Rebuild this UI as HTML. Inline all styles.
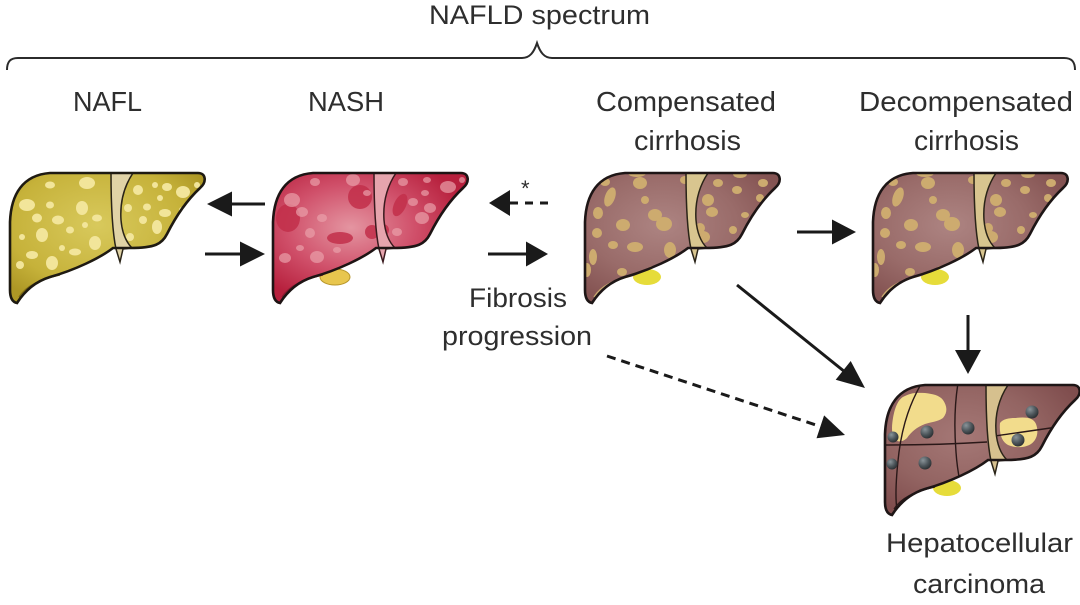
<!DOCTYPE html>
<html><head><meta charset="utf-8">
<style>
html,body{margin:0;padding:0;background:#fff;}
svg{display:block;}
text{font-family:"Liberation Sans",sans-serif;fill:#2e2e2e;}
</style></head>
<body>
<svg width="1080" height="605" viewBox="0 0 1080 605" xmlns="http://www.w3.org/2000/svg">
<defs>
  <path id="lv" d="M 0,120 L 0,52 C 1,24 13,5 40,3 L 188,3 C 196,3 197,12 190,18 C 175,32 165,48 157,64 C 152,74 145,78 120,78 L 103,78 C 90,88 65,100 40,107 C 24,112 14,122 7,133 C 2,132 0,127 0,120 Z"/>
  <path id="lig" d="M 101,3 L 123,3 C 113,18 110,35 111,50 C 112,62 116,72 122,78 L 113,79 L 110,92 L 106,79 C 102,60 101,30 101,3 Z"/>
  <clipPath id="lc"><use href="#lv"/></clipPath>
  <radialGradient id="gY" cx="0.45" cy="0.4" r="0.65">
    <stop offset="0" stop-color="#d8c95c"/><stop offset="0.7" stop-color="#c6b23a"/><stop offset="1" stop-color="#ad9725"/>
  </radialGradient>
  <radialGradient id="gR" cx="0.4" cy="0.42" r="0.6">
    <stop offset="0" stop-color="#e495a1"/><stop offset="0.55" stop-color="#d0506a"/><stop offset="1" stop-color="#b7203d"/>
  </radialGradient>
  <radialGradient id="gC" cx="0.4" cy="0.4" r="0.65">
    <stop offset="0" stop-color="#ad8482"/><stop offset="0.6" stop-color="#996b69"/><stop offset="1" stop-color="#845352"/>
  </radialGradient>
  <radialGradient id="gH" cx="0.4" cy="0.4" r="0.65">
    <stop offset="0" stop-color="#a57876"/><stop offset="0.6" stop-color="#936462"/><stop offset="1" stop-color="#804e4e"/>
  </radialGradient>
  <radialGradient id="gS" cx="0.35" cy="0.3" r="0.7">
    <stop offset="0" stop-color="#8a9499"/><stop offset="0.6" stop-color="#4d565b"/><stop offset="1" stop-color="#2e3336"/>
  </radialGradient>
  <g id="nod" fill="#cdab6f">
    <ellipse cx="55" cy="13" rx="7" ry="6"/><ellipse cx="25" cy="27" rx="5" ry="10" transform="rotate(20 25 27)"/>
    <ellipse cx="13" cy="43" rx="5" ry="6"/><ellipse cx="38" cy="55" rx="7" ry="6"/>
    <ellipse cx="70" cy="45" rx="7" ry="6"/><ellipse cx="79" cy="54" rx="8" ry="7"/>
    <ellipse cx="50" cy="77" rx="8" ry="5"/><ellipse cx="85" cy="80" rx="6" ry="8"/>
    <ellipse cx="12" cy="63" rx="5" ry="5"/><ellipse cx="8" cy="87" rx="4" ry="8"/>
    <ellipse cx="37" cy="102" rx="5" ry="4"/><ellipse cx="85" cy="97" rx="5" ry="4"/>
    <ellipse cx="123" cy="30" rx="6" ry="6"/><ellipse cx="127" cy="42" rx="6" ry="5"/>
    <ellipse cx="133" cy="13" rx="5" ry="4"/><ellipse cx="152" cy="20" rx="5" ry="4"/>
    <ellipse cx="178" cy="13" rx="5" ry="4"/><ellipse cx="148" cy="60" rx="4" ry="4"/>
    <ellipse cx="118" cy="67" rx="7" ry="6"/><ellipse cx="175" cy="28" rx="4" ry="4"/>
    <ellipse cx="115" cy="58" rx="5" ry="5"/><ellipse cx="52" cy="3" rx="9" ry="4"/>
    <ellipse cx="155" cy="4" rx="7" ry="4"/><ellipse cx="20" cy="12" rx="5" ry="4"/>
    <ellipse cx="2" cy="100" rx="4" ry="7"/><ellipse cx="68" cy="100" rx="5" ry="4"/>
    <ellipse cx="60" cy="30" rx="4" ry="4"/><ellipse cx="28" cy="75" rx="5" ry="4"/>
    <ellipse cx="160" cy="45" rx="4" ry="3"/><ellipse cx="100" cy="10" rx="5" ry="4"/>
  </g>
</defs>

<!-- Title and brace -->
<text x="429" y="24" font-size="27" textLength="221" lengthAdjust="spacingAndGlyphs">NAFLD spectrum</text>
<path d="M 7,70 C 7,62 10,58 18,58 L 522,58 C 530,58 534,52 537,43 C 540,52 544,58 552,58 L 1064,58 C 1072,58 1075,62 1075,70" fill="none" stroke="#2b2b2b" stroke-width="2"/>

<!-- Stage labels -->
<text x="73" y="111" font-size="28" textLength="69" lengthAdjust="spacingAndGlyphs">NAFL</text>
<text x="308" y="111" font-size="28" textLength="76" lengthAdjust="spacingAndGlyphs">NASH</text>
<text x="596" y="111" font-size="28" textLength="180" lengthAdjust="spacingAndGlyphs">Compensated</text>
<text x="634" y="150" font-size="28" textLength="107" lengthAdjust="spacingAndGlyphs">cirrhosis</text>
<text x="859" y="111" font-size="28" textLength="214" lengthAdjust="spacingAndGlyphs">Decompensated</text>
<text x="914" y="150" font-size="28" textLength="105" lengthAdjust="spacingAndGlyphs">cirrhosis</text>
<text x="469" y="307" font-size="27" textLength="98" lengthAdjust="spacingAndGlyphs">Fibrosis</text>
<text x="442" y="345" font-size="27" textLength="150" lengthAdjust="spacingAndGlyphs">progression</text>
<text x="886" y="552" font-size="27" textLength="187" lengthAdjust="spacingAndGlyphs">Hepatocellular</text>
<text x="913" y="593" font-size="27" textLength="132" lengthAdjust="spacingAndGlyphs">carcinoma</text>
<text x="521" y="196" font-size="22">*</text>

<!-- NAFL liver -->
<g transform="translate(10,170)">
  <use href="#lv" fill="url(#gY)"/>
  <g clip-path="url(#lc)" fill="#f2e59a">
    <ellipse cx="40" cy="15" rx="5" ry="3.5"/><ellipse cx="77" cy="13" rx="8" ry="6"/>
    <ellipse cx="17" cy="35" rx="8" ry="6"/><ellipse cx="40" cy="35" rx="4" ry="3.5"/>
    <ellipse cx="72" cy="38" rx="6" ry="7"/><ellipse cx="87" cy="48" rx="5" ry="3.5"/>
    <ellipse cx="27" cy="48" rx="5" ry="4.5"/><ellipse cx="48" cy="50" rx="6" ry="4.5"/>
    <ellipse cx="60" cy="60" rx="4" ry="3.5"/><ellipse cx="32" cy="65" rx="6" ry="7"/>
    <ellipse cx="12" cy="67" rx="3" ry="3"/><ellipse cx="85" cy="73" rx="6" ry="7"/>
    <ellipse cx="22" cy="85" rx="6" ry="4"/><ellipse cx="42" cy="93" rx="6" ry="7"/>
    <ellipse cx="10" cy="95" rx="4" ry="4"/><ellipse cx="65" cy="82" rx="6" ry="3.5"/>
    <ellipse cx="52" cy="78" rx="3" ry="3"/><ellipse cx="75" cy="55" rx="3" ry="3"/>
    <ellipse cx="128" cy="20" rx="5" ry="5"/><ellipse cx="145" cy="15" rx="3" ry="3"/>
    <ellipse cx="157" cy="17" rx="5" ry="4"/><ellipse cx="173" cy="22" rx="7" ry="6"/>
    <ellipse cx="187" cy="15" rx="3" ry="3"/><ellipse cx="137" cy="37" rx="4" ry="3.5"/>
    <ellipse cx="150" cy="28" rx="3" ry="3"/><ellipse cx="155" cy="43" rx="6" ry="4"/>
    <ellipse cx="118" cy="38" rx="4" ry="4"/><ellipse cx="133" cy="50" rx="4" ry="4"/>
    <ellipse cx="147" cy="57" rx="5" ry="7"/><ellipse cx="120" cy="67" rx="4" ry="4"/>
    <ellipse cx="172" cy="40" rx="3" ry="3"/>
  </g>
  <path d="M 9,127 C 16,116 28,110 50,105" fill="none" stroke="#7d6a14" stroke-width="1.2"/>
  <use href="#lig" fill="#e0d3a6" stroke="#2a2418" stroke-width="1.5"/>
  <use href="#lv" fill="none" stroke="#1e1a12" stroke-width="2.6"/>
</g>

<!-- NASH liver -->
<g transform="translate(273,170)">
  <ellipse cx="62" cy="107" rx="15" ry="8" fill="#e8c64e" stroke="#b8962a" stroke-width="1"/>
  <use href="#lv" fill="url(#gR)"/>
  <g clip-path="url(#lc)">
    <g fill="#c2304b" opacity="0.85">
      <ellipse cx="87" cy="27" rx="12" ry="12"/><ellipse cx="67" cy="68" rx="13" ry="6"/>
      <ellipse cx="15" cy="48" rx="12" ry="14"/><ellipse cx="127" cy="35" rx="6" ry="12" transform="rotate(25 127 35)"/>
      <ellipse cx="99" cy="62" rx="7" ry="7"/><ellipse cx="110" cy="60" rx="6" ry="6"/>
    </g>
    <g fill="#eaa0aa" opacity="0.7">
      <ellipse cx="19" cy="30" rx="8" ry="7"/><ellipse cx="42" cy="12" rx="5" ry="4"/>
      <ellipse cx="80" cy="10" rx="7" ry="6"/><ellipse cx="29" cy="42" rx="6" ry="5"/>
      <ellipse cx="37" cy="63" rx="5" ry="5"/><ellipse cx="12" cy="88" rx="6" ry="5"/>
      <ellipse cx="44" cy="87" rx="7" ry="6"/><ellipse cx="27" cy="78" rx="4" ry="3"/>
      <ellipse cx="64" cy="80" rx="4" ry="3"/><ellipse cx="49" cy="48" rx="5" ry="4"/>
      <ellipse cx="130" cy="12" rx="5" ry="4"/><ellipse cx="154" cy="10" rx="4" ry="3"/>
      <ellipse cx="175" cy="17" rx="8" ry="6"/><ellipse cx="152" cy="23" rx="4" ry="3"/>
      <ellipse cx="157" cy="38" rx="6" ry="5"/><ellipse cx="149" cy="48" rx="7" ry="6"/>
      <ellipse cx="140" cy="32" rx="5" ry="4"/><ellipse cx="124" cy="62" rx="5" ry="4"/>
      <ellipse cx="189" cy="10" rx="3" ry="3"/><ellipse cx="94" cy="23" rx="4" ry="3"/>
    </g>
  </g>
  <path d="M 9,127 C 16,116 28,110 50,105" fill="none" stroke="#8a1a30" stroke-width="1.2"/>
  <use href="#lig" fill="#e6a4ad" stroke="#3a1a1e" stroke-width="1.5"/>
  <use href="#lv" fill="none" stroke="#1e1414" stroke-width="2.6"/>
</g>

<!-- Compensated cirrhosis -->
<g transform="translate(585,170)">
  <ellipse cx="62" cy="107" rx="14" ry="8" fill="#e6dc3a"/>
  <use href="#lv" fill="url(#gC)"/>
  <g clip-path="url(#lc)"><use href="#nod"/></g>
  <path d="M 9,127 C 16,116 28,110 50,105" fill="none" stroke="#c8a870" stroke-width="1.5"/>
  <use href="#lig" fill="#d8c58f" stroke="#2a2418" stroke-width="1.5"/>
  <use href="#lv" fill="none" stroke="#1e1616" stroke-width="2.6"/>
</g>

<!-- Decompensated cirrhosis -->
<g transform="translate(873,170)">
  <ellipse cx="62" cy="107" rx="14" ry="8" fill="#e6dc3a"/>
  <use href="#lv" fill="url(#gC)"/>
  <g clip-path="url(#lc)"><use href="#nod"/></g>
  <path d="M 9,127 C 16,116 28,110 50,105" fill="none" stroke="#c8a870" stroke-width="1.5"/>
  <use href="#lig" fill="#d8c58f" stroke="#2a2418" stroke-width="1.5"/>
  <use href="#lv" fill="none" stroke="#1e1616" stroke-width="2.6"/>
</g>

<!-- HCC liver -->
<g transform="translate(885,382)">
  <ellipse cx="62" cy="106" rx="14" ry="8" fill="#e6dc3a"/>
  <use href="#lv" fill="url(#gH)"/>
  <g clip-path="url(#lc)">
    <path d="M 8,36 C 10,24 14,16 20,14 C 28,10 34,11 40,11 C 48,12 54,13 58,18 C 62,24 63,30 58,36 C 52,40 46,40 40,42 C 32,45 26,50 22,56 C 18,60 12,61 9,56 C 6,50 7,42 8,36 Z" fill="#f2dc8c"/>
    <path d="M 115,41 C 118,37 124,36 130,36 C 140,35 148,35 151,42 C 154,50 152,58 146,62 C 140,66 130,66 123,63 C 117,60 114,52 115,41 Z" fill="#f2dc8c"/>
    <g fill="none" stroke="#2a1818" stroke-width="1.4">
      <path d="M 0,63 C 30,63 70,62 102,60"/>
      <path d="M 110,54 C 130,51 160,47 192,42"/>
      <path d="M 36,2 C 26,20 18,40 14,70 C 11,95 10,115 12,128"/>
      <path d="M 73,1 C 70,20 69,45 71,70 C 72,85 74,95 75,100"/>
    </g>
    <g fill="url(#gS)">
      <circle cx="42" cy="50" r="6.5"/><circle cx="83" cy="46" r="6.5"/>
      <circle cx="147" cy="30" r="6.5"/><circle cx="133" cy="58" r="6.5"/>
      <circle cx="8" cy="55" r="5.5"/><circle cx="7" cy="82" r="5.5"/>
      <circle cx="40" cy="81" r="6.5"/>
    </g>
  </g>
  <path d="M 9,127 C 16,116 28,110 50,105" fill="none" stroke="#2a1818" stroke-width="1.2"/>
  <use href="#lig" fill="#d6c08e" stroke="#2a2418" stroke-width="1.5"/>
  <use href="#lv" fill="none" stroke="#1e1616" stroke-width="2.6"/>
</g>

<!-- Arrows -->
<g stroke="#1a1a1a" stroke-width="3" fill="none">
  <line x1="230" y1="204" x2="265" y2="204"/>
  <line x1="205" y1="254" x2="243" y2="254"/>
  <line x1="510" y1="203" x2="548" y2="203" stroke-dasharray="8,7"/>
  <line x1="488" y1="254" x2="530" y2="254"/>
  <line x1="797" y1="232" x2="835" y2="232"/>
  <line x1="737" y1="285" x2="845" y2="372"/>
  <line x1="607" y1="356" x2="822" y2="427" stroke-dasharray="9,6"/>
  <line x1="968" y1="315" x2="968" y2="352"/>
</g>
<g fill="#1a1a1a">
  <polygon points="207,204 232,191.5 232,216.5"/>
  <polygon points="265,254 240,241.5 240,266.5"/>
  <polygon points="489,203 510,190 510,216"/>
  <polygon points="548,254 526,241.5 526,266.5"/>
  <polygon points="856,232 832,219.5 832,244.5"/>
  <polygon points="865,388 835.7,379.8 850.7,361"/>
  <polygon points="845,435 816.5,438.2 824.1,415.4"/>
  <polygon points="968,374 955,350 981,350"/>
</g>
</svg>
</body></html>
